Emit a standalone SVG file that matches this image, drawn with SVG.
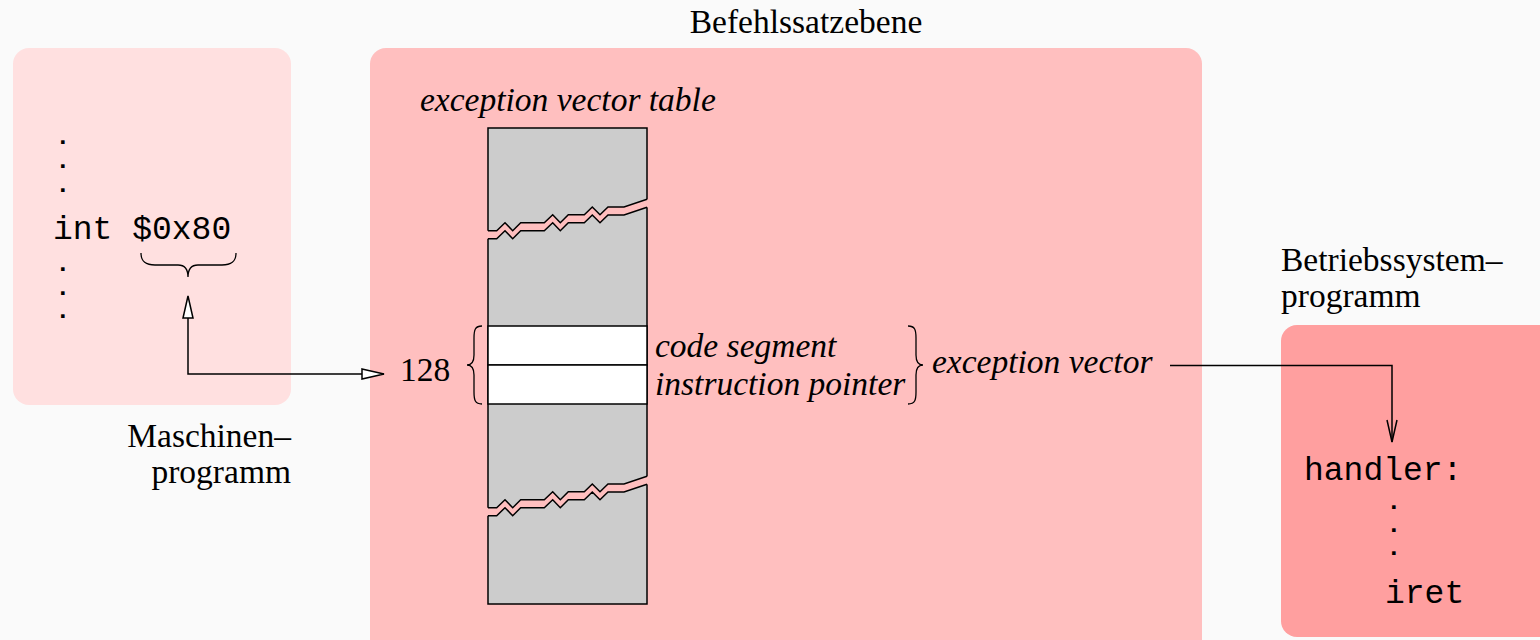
<svg xmlns="http://www.w3.org/2000/svg" width="1540" height="640" viewBox="0 0 1540 640">
<defs>
<style>
.serif{font-family:"Liberation Serif","Times New Roman",serif;font-size:33.5px;fill:#000}
.it{font-style:italic}
.mono{font-family:"Liberation Mono","Courier New",monospace;font-size:33px;fill:#000}
.dot{font-family:"DejaVu Sans","Liberation Sans",sans-serif;font-size:20px;font-weight:bold;fill:#000}
.ln{fill:none;stroke:#000;stroke-width:1.5}
.brace{fill:none;stroke:#000;stroke-width:1.3}
</style>
<marker id="openTri" viewBox="0 0 24 12" refX="23" refY="6" markerWidth="24" markerHeight="12" markerUnits="userSpaceOnUse" orient="auto">
<path d="M1,1 L23,6 L1,11 Z" fill="#fff" stroke="#000" stroke-width="1.5"/>
</marker>
<marker id="vHead" viewBox="0 0 24 12" refX="23" refY="6" markerWidth="24" markerHeight="12" markerUnits="userSpaceOnUse" orient="auto">
<path d="M1,1 L23,6 L1,11" fill="none" stroke="#000" stroke-width="1.5"/>
</marker>
</defs>
<rect x="0" y="0" width="1540" height="640" fill="#fafafa"/>

<g id="maschinenprogramm">
<rect x="13" y="48" width="278" height="357" rx="16" fill="#ffe0e0"/>
<text class="dot" x="59" y="143.5">.</text>
<text class="dot" x="59" y="168">.</text>
<text class="dot" x="59" y="192">.</text>
<text class="mono" x="53" y="239">int $0x80</text>
<text class="dot" x="59" y="271">.</text>
<text class="dot" x="59" y="294.5">.</text>
<text class="dot" x="59" y="318">.</text>
<path class="brace" d="M141,253 C141,262 146,265 155,265 L178,265 C184,265 188,268 188,277 C188,268 192,265 198,265 L222,265 C231,265 236,262 236,253"/>
<text class="serif" x="291" y="447" text-anchor="end">Maschinen–</text>
<text class="serif" x="291" y="483" text-anchor="end">programm</text>
</g>

<g id="befehlssatzebene">
<rect x="370" y="48" width="832" height="620" rx="16" fill="#ffbfbf"/>
<text class="serif" x="806" y="33" text-anchor="middle">Befehlssatzebene</text>
<text class="serif it" x="420" y="111">exception vector table</text>
</g>

<g id="vector-table">
<rect x="488" y="128" width="159" height="476" fill="#cccccc" stroke="#000" stroke-width="1.5"/>
<rect x="488" y="326" width="159" height="39" fill="#fff" stroke="#000" stroke-width="1.5"/>
<rect x="488" y="365" width="159" height="39" fill="#fff" stroke="#000" stroke-width="1.5"/>
<g id="break1">
<polygon points="487,230.7 496.7,230.7 505,222.7 512.7,230.7 520.7,222.7 544.3,222.7 552.7,214.7 560.3,222.7 568.3,214.7 584.3,214.7 592.3,207 600,214.7 608,207 624,207 648,199.3 648,207.3 624,215 608,215 600,222.7 592.3,215 584.3,222.7 568.3,222.7 560.3,230.7 552.7,222.7 544.3,230.7 520.7,230.7 512.7,238.7 505,230.7 496.7,238.7 487,238.7" fill="#ffbfbf"/>
<polyline class="ln" points="488,230.7 496.7,230.7 505,222.7 512.7,230.7 520.7,222.7 544.3,222.7 552.7,214.7 560.3,222.7 568.3,214.7 584.3,214.7 592.3,207 600,214.7 608,207 624,207 647,199.3"/>
<polyline class="ln" points="488,238.7 496.7,238.7 505,230.7 512.7,238.7 520.7,230.7 544.3,230.7 552.7,222.7 560.3,230.7 568.3,222.7 584.3,222.7 592.3,215 600,222.7 608,215 624,215 647,207.3"/>
</g>
<g id="break2" transform="translate(0,277)">
<polygon points="487,230.7 496.7,230.7 505,222.7 512.7,230.7 520.7,222.7 544.3,222.7 552.7,214.7 560.3,222.7 568.3,214.7 584.3,214.7 592.3,207 600,214.7 608,207 624,207 648,199.3 648,207.3 624,215 608,215 600,222.7 592.3,215 584.3,222.7 568.3,222.7 560.3,230.7 552.7,222.7 544.3,230.7 520.7,230.7 512.7,238.7 505,230.7 496.7,238.7 487,238.7" fill="#ffbfbf"/>
<polyline class="ln" points="488,230.7 496.7,230.7 505,222.7 512.7,230.7 520.7,222.7 544.3,222.7 552.7,214.7 560.3,222.7 568.3,214.7 584.3,214.7 592.3,207 600,214.7 608,207 624,207 647,199.3"/>
<polyline class="ln" points="488,238.7 496.7,238.7 505,230.7 512.7,238.7 520.7,230.7 544.3,230.7 552.7,222.7 560.3,230.7 568.3,222.7 584.3,222.7 592.3,215 600,222.7 608,215 624,215 647,207.3"/>
</g>
<text class="serif" x="400" y="381">128</text>
<path class="brace" d="M482,326 C475,326 474,330 474,338 L474,355 C474,362 472,365 467,365 C472,365 474,368 474,375 L474,392 C474,400 475,404 482,404"/>
<text class="serif it" x="655" y="357">code segment</text>
<text class="serif it" x="655" y="395">instruction pointer</text>
<path class="brace" d="M908,326 C915,326 916,330 916,338 L916,355 C916,362 918,365 923,365 C918,365 916,368 916,375 L916,392 C916,400 915,404 908,404"/>
<text class="serif it" x="932" y="373">exception vector</text>
</g>

<g id="betriebssystemprogramm">
<rect x="1281" y="325" width="280" height="312" rx="16" fill="#ff9f9f"/>
<text class="serif" x="1281" y="271">Betriebssystem–</text>
<text class="serif" x="1281" y="307">programm</text>
<text class="mono" x="1304" y="480">handler:</text>
<text class="dot" x="1390" y="509">.</text>
<text class="dot" x="1390" y="532">.</text>
<text class="dot" x="1390" y="555">.</text>
<text class="mono" x="1385" y="603">iret</text>
</g>

<g id="connectors">
<polyline class="ln" points="188,318 188,374 384,374" marker-end="url(#openTri)"/>
<path d="M188,296 L193,318 L183,318 Z" fill="#fff" stroke="#000" stroke-width="1.5"/>
<polyline class="ln" points="1170,365.5 1392,365.5 1392,442" marker-end="url(#vHead)"/>
</g>
</svg>
